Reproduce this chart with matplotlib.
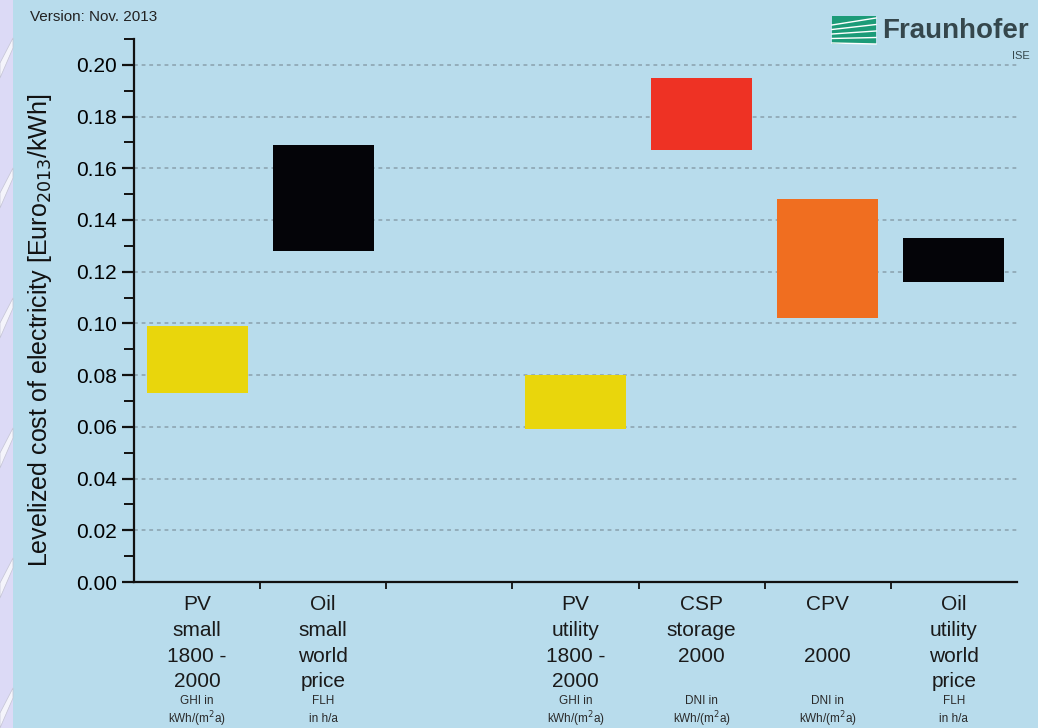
import matplotlib
matplotlib.use("Agg")
import matplotlib.pyplot as plt
import matplotlib.transforms as mtransforms
from matplotlib.patches import Rectangle, Polygon
import numpy as np

plt.rcParams["font.family"] = ["Liberation Sans", "DejaVu Sans"]

# data: LCOE ranges in Euro2013/kWh, one slot per category (slot 2 is empty)
slots = [0, 1, 3, 4, 5, 6]
low = [0.073, 0.128, 0.059, 0.167, 0.102, 0.116]
high = [0.099, 0.169, 0.080, 0.195, 0.148, 0.133]
colors = ["#e9d60c", "#040408", "#e9d60c", "#ee3224", "#f06e20", "#040408"]
main_labels = [
    ["PV", "small", "1800 -", "2000"],
    ["Oil", "small", "world", "price"],
    ["PV", "utility", "1800 -", "2000"],
    ["CSP", "storage", "2000", ""],
    ["CPV", "", "2000", ""],
    ["Oil", "utility", "world", "price"],
]
unit_labels = [
    ["GHI in", "kWh/(m$^2$a)"],
    ["FLH", "in h/a"],
    ["GHI in", "kWh/(m$^2$a)"],
    ["DNI in", "kWh/(m$^2$a)"],
    ["DNI in", "kWh/(m$^2$a)"],
    ["FLH", "in h/a"],
]
yticks = np.arange(0, 0.201, 0.02)

BG = "#b8dcec"
W, H = 1038, 728
fig = plt.figure(figsize=(W / 100, H / 100), dpi=100, facecolor=BG)

# lavender page frame strip on the left
fig.patches.append(Rectangle((0, 0), 13 / W, 1, transform=fig.transFigure,
                             facecolor="#dcdaf6", edgecolor="none", zorder=0))
for y0 in [690, 560, 430, 300, 170, 40]:
    fig.patches.append(Polygon([(0, (y0 - 40) / H), (13 / W, (y0 - 10) / H),
                                (13 / W, y0 / H), (0, (y0 - 25) / H)],
                               closed=True, transform=fig.transFigure,
                               facecolor="#f4f4fb", edgecolor="#c4c4d4", lw=0.5, zorder=0))

ax = fig.add_axes([134 / W, (H - 582) / H, (1017 - 134) / W, (582 - 39) / H])
ax.set_facecolor(BG)

for s, lo, hi, c in zip(slots, low, high, colors):
    ax.bar(s + 0.5, hi - lo, bottom=lo, width=0.8, color=c, edgecolor="none", zorder=3)

ax.set_xlim(0, 7)
ax.set_ylim(0, 0.21)
ax.set_yticks(yticks)
ax.set_yticklabels([f"{v:.2f}" for v in yticks], fontsize=15)
ax.set_yticks(np.arange(0.01, 0.211, 0.02), minor=True)
ax.set_xticks(np.arange(1, 7))
ax.set_xticklabels([])
ax.tick_params(axis="y", which="major", direction="out", length=9, width=1.6, color="#111")
ax.tick_params(axis="y", which="minor", direction="out", length=7, width=1.4, color="#111")
ax.tick_params(axis="x", which="major", direction="out", length=5, width=1.3, color="#111")
for v in yticks[1:]:
    ax.axhline(v, color="#8aa0ad", ls=(0, (2.5, 2.5)), lw=1.1, zorder=1)
for side in ["top", "right"]:
    ax.spines[side].set_visible(False)
for side in ["left", "bottom"]:
    ax.spines[side].set_linewidth(1.6)
    ax.spines[side].set_color("#111")

ax.set_ylabel(r"Levelized cost of electricity [Euro$_{2013}$/kWh]", fontsize=18,
              color="#111")
ax.yaxis.set_label_coords(-0.091, 0.464)

# category labels under the axis
trans = mtransforms.blended_transform_factory(ax.transData, fig.transFigure)
for s, ml, ul in zip(slots, main_labels, unit_labels):
    for k, t in enumerate(ml):
        if t:
            ax.text(s + 0.5, (H - (605 + 25.5 * k)) / H, t, transform=trans,
                    ha="center", va="center", fontsize=15, color="#1a1a1a")
    for k, t in enumerate(ul):
        ax.text(s + 0.5, (H - (701 + 18 * k)) / H, t, transform=trans,
                ha="center", va="center", fontsize=8.5, color="#2a2a2a")

fig.text(30 / W, (H - 17) / H, "Version: Nov. 2013", fontsize=11, color="#222",
         va="center", ha="left")

# Fraunhofer logo
lx0, ly0, lw_, lh_ = 832, 16, 44, 28
fig.patches.append(Rectangle((lx0 / W, (H - ly0 - lh_) / H), lw_ / W, lh_ / H,
                             transform=fig.transFigure, facecolor="#1c9b78",
                             edgecolor="none"))
for k in range(5):
    yy = ly0 + 6 + 4.5 * k
    fig.lines.append(plt.Line2D([lx0 / W, (lx0 + lw_) / W],
                                [(H - yy - 3) / H, (H - yy + 4 - 2 * k) / H],
                                transform=fig.transFigure, color="white", lw=1.0))
fig.text(882 / W, (H - 31) / H, "Fraunhofer", fontsize=20, color="#35474c",
         fontweight="bold", va="center", ha="left")
fig.text(1030 / W, (H - 56) / H, "ISE", fontsize=8, color="#35474c",
         va="center", ha="right")

fig.savefig("out.png", dpi=100, facecolor=BG)
